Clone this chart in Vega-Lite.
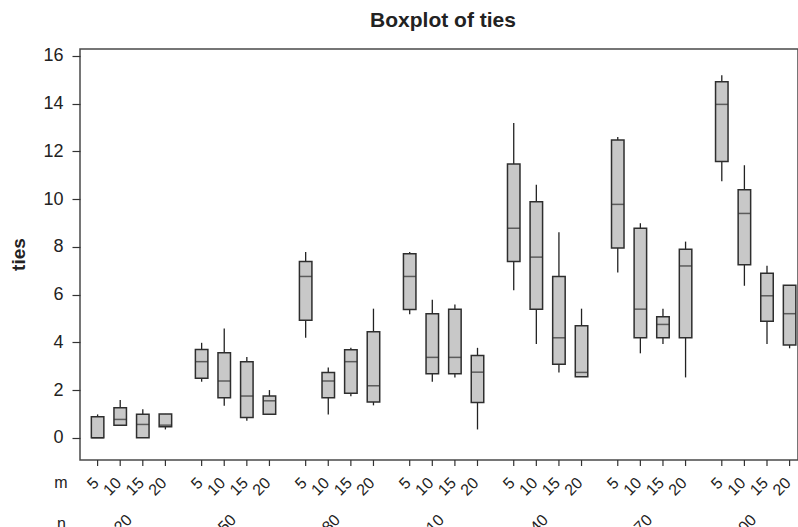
{
  "$schema": "https://vega.github.io/schema/vega-lite/v6.json",
  "autosize": "none",
  "width": 718,
  "height": 411,
  "padding": {"left": 80, "top": 49, "right": 0, "bottom": 67},
  "background": "white",
  "config": {
    "font": "Liberation Sans",
    "view": {"stroke": "#4a4a4a", "strokeWidth": 1.5}
  },
  "title": {
    "text": "Boxplot of ties",
    "font": "Liberation Sans",
    "fontSize": 21,
    "fontWeight": "bold",
    "color": "#222222",
    "frame": "group",
    "anchor": "middle",
    "baseline": "alphabetic",
    "offset": -1,
    "dx": 4
  },
  "data": {
    "values": [
      {"n": 20, "m": 5, "lo": 0, "q1": 0, "med": 0, "q3": 0.88, "hi": 0.98},
      {"n": 20, "m": 10, "lo": 0.53, "q1": 0.53, "med": 0.77, "q3": 1.26, "hi": 1.58},
      {"n": 20, "m": 15, "lo": 0, "q1": 0, "med": 0.56, "q3": 0.99, "hi": 1.2},
      {"n": 20, "m": 20, "lo": 0.35, "q1": 0.46, "med": 0.53, "q3": 1.0, "hi": 1.0},
      {"n": 50, "m": 5, "lo": 2.35, "q1": 2.49, "med": 3.19, "q3": 3.7, "hi": 3.98},
      {"n": 50, "m": 10, "lo": 1.34, "q1": 1.68, "med": 2.38, "q3": 3.56, "hi": 4.58},
      {"n": 50, "m": 15, "lo": 0.71, "q1": 0.85, "med": 1.75, "q3": 3.19, "hi": 3.39},
      {"n": 50, "m": 20, "lo": 0.99, "q1": 0.99, "med": 1.55, "q3": 1.75, "hi": 2.0},
      {"n": 80, "m": 5, "lo": 4.19, "q1": 4.93, "med": 6.76, "q3": 7.39, "hi": 7.78},
      {"n": 80, "m": 10, "lo": 0.98, "q1": 1.68, "med": 2.38, "q3": 2.74, "hi": 2.95},
      {"n": 80, "m": 15, "lo": 1.74, "q1": 1.87, "med": 3.19, "q3": 3.69, "hi": 3.77},
      {"n": 80, "m": 20, "lo": 1.36, "q1": 1.5, "med": 2.18, "q3": 4.44, "hi": 5.41},
      {"n": 110, "m": 5, "lo": 5.18, "q1": 5.38, "med": 6.76, "q3": 7.71, "hi": 7.78},
      {"n": 110, "m": 10, "lo": 2.35, "q1": 2.68, "med": 3.37, "q3": 5.2, "hi": 5.78},
      {"n": 110, "m": 15, "lo": 2.53, "q1": 2.68, "med": 3.37, "q3": 5.39, "hi": 5.59},
      {"n": 110, "m": 20, "lo": 0.35, "q1": 1.48, "med": 2.75, "q3": 3.45, "hi": 3.77},
      {"n": 140, "m": 5, "lo": 6.18, "q1": 7.39, "med": 8.78, "q3": 11.47, "hi": 13.19},
      {"n": 140, "m": 10, "lo": 3.93, "q1": 5.39, "med": 7.57, "q3": 9.89, "hi": 10.6},
      {"n": 140, "m": 15, "lo": 2.74, "q1": 3.08, "med": 4.19, "q3": 6.76, "hi": 8.61},
      {"n": 140, "m": 20, "lo": 2.56, "q1": 2.56, "med": 2.74, "q3": 4.69, "hi": 5.41},
      {"n": 170, "m": 5, "lo": 6.93, "q1": 7.95, "med": 9.78, "q3": 12.48, "hi": 12.6},
      {"n": 170, "m": 10, "lo": 3.54, "q1": 4.19, "med": 5.39, "q3": 8.78, "hi": 8.99},
      {"n": 170, "m": 15, "lo": 3.93, "q1": 4.19, "med": 4.75, "q3": 5.07, "hi": 5.41},
      {"n": 170, "m": 20, "lo": 2.53, "q1": 4.19, "med": 7.2, "q3": 7.9, "hi": 8.22},
      {"n": 200, "m": 5, "lo": 10.75, "q1": 11.58, "med": 13.97, "q3": 14.92, "hi": 15.19},
      {"n": 200, "m": 10, "lo": 6.37, "q1": 7.25, "med": 9.4, "q3": 10.39, "hi": 11.42},
      {"n": 200, "m": 15, "lo": 3.93, "q1": 4.88, "med": 5.95, "q3": 6.89, "hi": 7.21},
      {"n": 200, "m": 20, "lo": 3.75, "q1": 3.89, "med": 5.2, "q3": 6.39, "hi": 6.39}
    ]
  },
  "encoding": {
    "x": {
      "field": "n",
      "type": "ordinal",
      "scale": {"range": [6.3, 720.9], "paddingInner": 0.131, "paddingOuter": 0},
      "axis": {
        "title": "n",
        "titleX": -19,
        "titleY": 63,
        "titleAngle": 0,
        "titleAlign": "center",
        "titleBaseline": "middle",
        "titleFont": "Liberation Sans",
        "titleFontSize": 16,
        "titleFontWeight": "normal",
        "titleColor": "#222222",
        "domain": false,
        "ticks": false,
        "labelAngle": 315,
        "labelAlign": "right",
        "labelBaseline": "middle",
        "labelPadding": 57,
        "labelOffset": -2,
        "labelFont": "Liberation Sans",
        "labelFontSize": 16,
        "labelColor": "#222222"
      }
    },
    "xOffset": {"field": "m", "type": "ordinal", "scale": {"paddingInner": 0, "paddingOuter": 0}}
  },
  "layer": [
    {
      "mark": {"type": "rule", "color": "#222222", "strokeWidth": 1.3},
      "encoding": {
        "y": {
          "field": "lo",
          "type": "quantitative",
          "scale": {"domain": [-0.93, 16.29], "nice": false, "zero": false},
          "axis": {
            "title": "ties",
            "titleX": -61.5,
            "titleY": 205,
            "titleAngle": 270,
            "titleAlign": "center",
            "titleBaseline": "middle",
            "titleFont": "Liberation Sans",
            "titleFontSize": 19,
            "titleFontWeight": "bold",
            "titleColor": "#222222",
            "values": [0, 2, 4, 6, 8, 10, 12, 14, 16],
            "domain": false,
            "grid": false,
            "tickSize": 8,
            "tickColor": "#333333",
            "tickWidth": 1.2,
            "labelPadding": 9,
            "labelFont": "Liberation Sans",
            "labelFontSize": 18,
            "labelColor": "#222222"
          }
        },
        "y2": {"field": "hi"}
      }
    },
    {
      "mark": {"type": "bar", "width": 12.5, "fill": "#c8c8c8", "stroke": "#2e2e2e", "strokeWidth": 1.5},
      "encoding": {
        "y": {"field": "q1", "type": "quantitative"},
        "y2": {"field": "q3"}
      }
    },
    {
      "mark": {"type": "tick", "size": 12.5, "thickness": 1.5, "color": "#2e2e2e", "orient": "horizontal"},
      "encoding": {
        "y": {"field": "med", "type": "quantitative"}
      }
    },
    {
      "mark": {"type": "rule", "color": "#333333", "strokeWidth": 1.2},
      "encoding": {
        "y": {"value": 411},
        "y2": {"value": 417}
      }
    },
    {
      "mark": {"type": "text", "angle": 315, "align": "right", "baseline": "middle", "fontSize": 16, "font": "Liberation Sans", "color": "#222222", "dx": -2},
      "encoding": {
        "y": {"value": 430},
        "text": {"field": "m", "type": "nominal"}
      }
    },
    {
      "data": {"values": [{"label": "m"}]},
      "mark": {"type": "text", "align": "center", "baseline": "middle", "fontSize": 16, "font": "Liberation Sans", "color": "#222222"},
      "encoding": {
        "x": {"value": -19},
        "xOffset": null,
        "y": {"value": 434},
        "text": {"field": "label", "type": "nominal"}
      }
    }
  ]
}
